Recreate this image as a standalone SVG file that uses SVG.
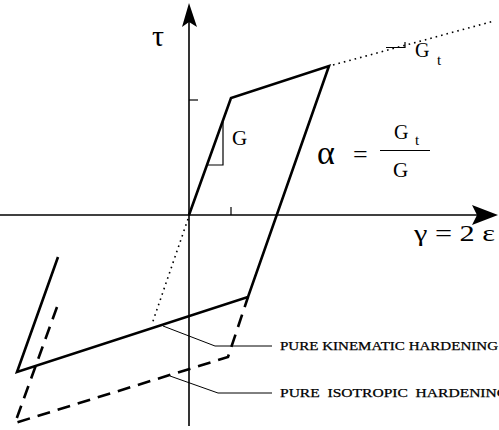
<svg xmlns="http://www.w3.org/2000/svg" width="499" height="430" viewBox="0 0 499 430">
<style>
.axis{stroke:#000;stroke-width:1.6;fill:none}
.loop{stroke:#000;stroke-width:2.6;fill:none;stroke-linejoin:miter}
.dash{stroke:#000;stroke-width:2.6;fill:none;stroke-dasharray:13 8}
.dot{stroke:#000;stroke-width:1.6;fill:none;stroke-dasharray:1.6 4}
.thin{stroke:#000;stroke-width:1.2;fill:none}
.lead{stroke:#000;stroke-width:1;fill:none}
.t{font-family:"Liberation Serif","Times New Roman",serif;fill:#000}
.leg{font-family:"Liberation Serif","Times New Roman",serif;fill:#000;stroke:#000;stroke-width:0.25;white-space:pre}
</style>
<rect width="499" height="430" fill="#fff"/>
<g id="axes">
<line class="axis" x1="189" y1="20" x2="189" y2="426"/>
<polygon points="189,3 182,27 189,22 197,27" fill="#000"/>
<line class="axis" x1="0" y1="215" x2="480" y2="215"/>
<polygon points="498,215 472,205 477,215 472,225" fill="#000"/>
<line class="thin" x1="189" y1="100" x2="198" y2="100"/>
<line class="thin" x1="231" y1="207" x2="231" y2="215"/>
</g>
<g id="kinematic-loop">
<path class="loop" d="M189,215 L231,98 L329,66 L248,297 L17,372 L58,257"/>
</g>
<g id="isotropic-loop">
<path class="dash" d="M57,307 L15,423 L228,357 L248,297"/>
</g>
<g id="extensions">
<line class="dot" x1="333" y1="65" x2="494" y2="21"/>
<line class="dot" x1="188" y1="219" x2="152" y2="324"/>
</g>
<g id="slope-triangles">
<path class="thin" d="M223,122 L223,165 L208,165"/>
<path class="thin" d="M386,47.5 L405,47.5 L405,42"/>
</g>
<g id="labels">
<text class="t" x="152" y="46" font-size="30">τ</text>
<text class="t" x="232" y="145" font-size="21">G</text>
<text class="t" x="415" y="57" font-size="20">G</text>
<text class="t" x="437" y="65" font-size="15">t</text>
<text class="t" x="317" y="164" font-size="34">α</text>
<text class="t" x="353" y="163" font-size="26">=</text>
<text class="t" x="394" y="139" font-size="20">G</text>
<text class="t" x="415" y="145" font-size="15">t</text>
<line class="thin" x1="380" y1="150.5" x2="430" y2="150.5"/>
<text class="t" x="393" y="177" font-size="21">G</text>
<text class="t" x="414" y="241" font-size="24" textLength="81" lengthAdjust="spacingAndGlyphs">γ = 2 ε</text>
</g>
<g id="connectors">
<path class="lead" d="M163,326 L215,346 L272,346"/>
<path class="lead" d="M170,376 L218,393 L272,393"/>
</g>
<g id="legend">
<text class="leg" x="280" y="350" font-size="12" textLength="218" lengthAdjust="spacingAndGlyphs">PURE KINEMATIC HARDENING</text>
<text class="leg" x="280" y="397" font-size="12" textLength="228" lengthAdjust="spacingAndGlyphs" xml:space="preserve">PURE  ISOTROPIC  HARDENING</text>
</g>
</svg>
